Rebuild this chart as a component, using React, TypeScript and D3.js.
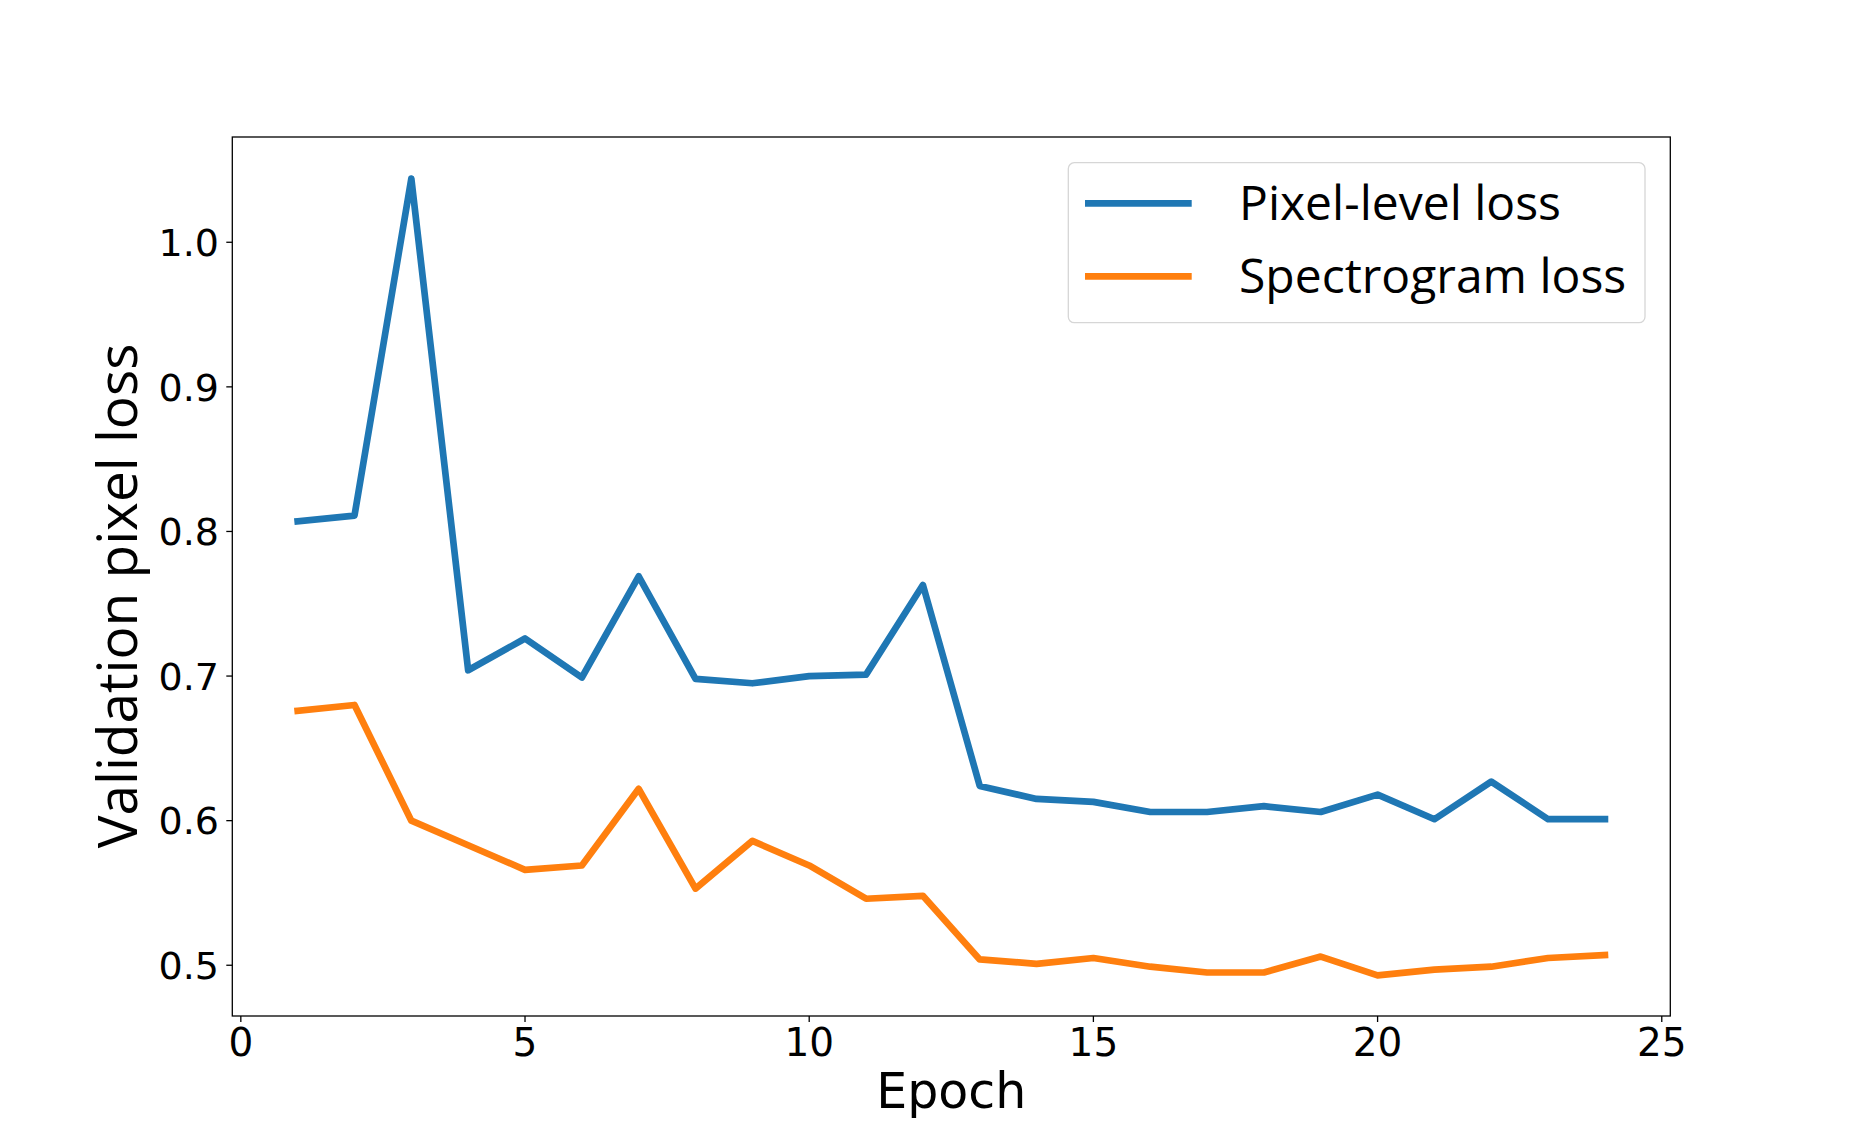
import React, { useEffect, useRef } from 'react';
import * as d3 from 'd3';

const epochs: number[] = [1, 2, 3, 4, 5, 6, 7, 8, 9, 10, 11, 12, 13, 14, 15, 16, 17, 18, 19, 20, 21, 22, 23, 24];
const pixelLoss: number[] = [
  0.807, 0.811, 1.044, 0.704, 0.726, 0.699, 0.769, 0.698, 0.695, 0.700, 0.701, 0.763,
  0.624, 0.615, 0.613, 0.606, 0.606, 0.610, 0.606, 0.618, 0.601, 0.627, 0.601, 0.601,
];
const spectroLoss: number[] = [
  0.676, 0.680, 0.600, 0.583, 0.566, 0.569, 0.622, 0.553, 0.586, 0.569, 0.546, 0.548,
  0.504, 0.501, 0.505, 0.499, 0.495, 0.495, 0.506, 0.493, 0.497, 0.499, 0.505, 0.507,
];
const xTicks: number[] = [0, 5, 10, 15, 20, 25];
const yTicks: number[] = [0.5, 0.6, 0.7, 0.8, 0.9, 1.0];
const seriesNames: string[] = ['Pixel-level loss', 'Spectrogram loss'];
const seriesColors: string[] = ['#1f77b4', '#ff7f0e'];

const W = 1855;
const H = 1142;

const LossChart: React.FC = () => {
  const svgRef: any = useRef<SVGSVGElement>(null);

  useEffect(() => {
    if (!svgRef.current) return;
    const svg = d3.select(svgRef.current);
    svg.selectAll('*').remove();

    const plot = { left: 232.3, right: 1670.3, top: 137, bottom: 1016 };

    const x = d3.scaleLinear().domain([-0.15, 25.15]).range([plot.left, plot.right]);
    const y = d3.scaleLinear().domain([0.4649, 1.0728]).range([plot.bottom, plot.top]);

    const tickFont = 'DejaVu Sans, sans-serif';
    const labelFont = '"Open Sans", sans-serif';

    // lines first, axes frame on top
    const line = d3
      .line<number>()
      .x((_, i) => x(epochs[i]))
      .y(d => y(d));

    [pixelLoss, spectroLoss].forEach((s, k) => {
      svg
        .append('path')
        .datum(s)
        .attr('d', line)
        .attr('fill', 'none')
        .attr('stroke', seriesColors[k])
        .attr('stroke-width', 6.7)
        .attr('stroke-linejoin', 'round')
        .attr('stroke-linecap', 'square');
    });

    svg
      .append('rect')
      .attr('x', plot.left)
      .attr('y', plot.top)
      .attr('width', plot.right - plot.left)
      .attr('height', plot.bottom - plot.top)
      .attr('fill', 'none')
      .attr('stroke', '#000')
      .attr('stroke-width', 1.3);

    // x ticks
    const gx = svg.append('g');
    xTicks.forEach(t => {
      gx.append('line')
        .attr('x1', x(t)).attr('x2', x(t))
        .attr('y1', plot.bottom).attr('y2', plot.bottom + 6)
        .attr('stroke', '#000').attr('stroke-width', 1.3);
      gx.append('text')
        .attr('x', x(t))
        .attr('y', 1056)
        .attr('text-anchor', 'middle')
        .attr('font-family', tickFont)
        .attr('font-size', 39)
        .text(String(t));
    });

    // y ticks
    const gy = svg.append('g');
    yTicks.forEach(t => {
      gy.append('line')
        .attr('x1', plot.left - 6).attr('x2', plot.left)
        .attr('y1', y(t)).attr('y2', y(t))
        .attr('stroke', '#000').attr('stroke-width', 1.3);
      gy.append('text')
        .attr('x', 219)
        .attr('y', y(t))
        .attr('dy', '0.36em')
        .attr('text-anchor', 'end')
        .attr('font-family', tickFont)
        .attr('font-size', 38)
        .text(t.toFixed(1));
    });

    // axis labels
    svg
      .append('text')
      .attr('x', (plot.left + plot.right) / 2)
      .attr('y', 1108)
      .attr('text-anchor', 'middle')
      .attr('font-family', tickFont)
      .attr('font-size', 49)
      .text('Epoch');

    svg
      .append('text')
      .attr('transform', 'translate(137,596) rotate(-90)')
      .attr('text-anchor', 'middle')
      .attr('font-family', labelFont)
      .attr('font-size', 55)
      .text('Validation pixel loss');

    // legend
    const lg = svg.append('g');
    lg.append('rect')
      .attr('x', 1068.3)
      .attr('y', 162.7)
      .attr('width', 1645 - 1068.3)
      .attr('height', 322.7 - 162.7)
      .attr('rx', 6)
      .attr('fill', '#fff')
      .attr('fill-opacity', 0.8)
      .attr('stroke', '#d6d6d6')
      .attr('stroke-width', 1.3);

    const rowsY = [203.3, 276.3];
    seriesNames.forEach((name, k) => {
      lg.append('line')
        .attr('x1', 1085).attr('x2', 1191.7)
        .attr('y1', rowsY[k]).attr('y2', rowsY[k])
        .attr('stroke', seriesColors[k])
        .attr('stroke-width', 6.7);
      lg.append('text')
        .attr('x', 1239)
        .attr('y', rowsY[k] + 16.8)
        .attr('font-family', labelFont)
        .attr('font-size', 48)
        .text(name);
    });
  }, []);

  return <svg ref={svgRef} width={W} height={H} style={{ position: 'absolute', left: 0, top: 0, background: '#fff' }}></svg>;
};

const App = () => {
  return (
    <div>
      <LossChart />
    </div>
  );
};

export default App;
